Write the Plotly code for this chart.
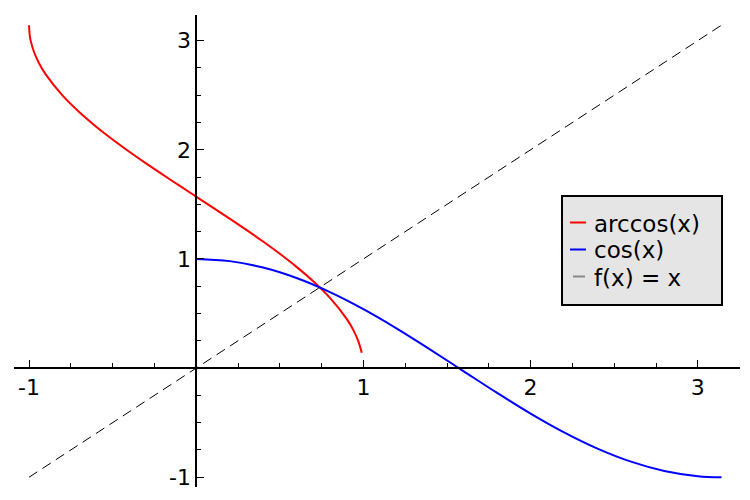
import plotly.graph_objects as go

# arccos(x) sampled on [-1, 0.99]
acos_x = [-1.0, -0.995, -0.99, -0.97, -0.94, -0.9, -0.8, -0.7, -0.6, -0.5, -0.4, -0.3, -0.2, -0.1,
          0.0, 0.1, 0.2, 0.3, 0.4, 0.5, 0.6, 0.7, 0.8, 0.9, 0.94, 0.97, 0.99]
acos_y = [3.1416, 3.0414, 3.0001, 2.8960, 2.7934, 2.6906, 2.4981, 2.3462, 2.2143, 2.0944, 1.9823,
          1.8755, 1.7722, 1.6710, 1.5708, 1.4706, 1.3694, 1.2661, 1.1593, 1.0472, 0.9273, 0.7954,
          0.6435, 0.4510, 0.3482, 0.2456, 0.1415]

# cos(x) sampled on [0, pi]
cos_x = [0.0, 0.2, 0.4, 0.6, 0.8, 1.0, 1.2, 1.4, 1.6, 1.8, 2.0, 2.2, 2.4, 2.6, 2.8, 3.0, 3.1416]
cos_y = [1.0, 0.9801, 0.9211, 0.8253, 0.6967, 0.5403, 0.3624, 0.1700, -0.0292, -0.2272, -0.4161,
         -0.5885, -0.7374, -0.8569, -0.9422, -0.9900, -1.0]

# f(x) = x on [-1, pi]
id_x = [-1.0, 3.1416]
id_y = [-1.0, 3.1416]

tick_vals = [-1, 1, 2, 3]
tick_text = ["-1", "1", "2", "3"]

legend_names = ["arccos(x)", "cos(x)", "f(x) = x"]
legend_colors = ["#ff0000", "#0000ff", "#888888"]

x_range = [-1.0897, 3.2524]
y_range = [-1.0893, 3.235]

fig = go.Figure()
fig.add_trace(go.Scatter(x=acos_x, y=acos_y, mode="lines", name=legend_names[0],
                         line=dict(color="#ff0000", width=2, shape="spline"), showlegend=False))
fig.add_trace(go.Scatter(x=cos_x, y=cos_y, mode="lines", name=legend_names[1],
                         line=dict(color="#0000ff", width=2, shape="spline"), showlegend=False))
fig.add_trace(go.Scatter(x=id_x, y=id_y, mode="lines", name=legend_names[2],
                         line=dict(color="black", width=1, dash="10px,6px"), showlegend=False))

xpos = (0 - y_range[0]) / (y_range[1] - y_range[0])
ypos = (0 - x_range[0]) / (x_range[1] - x_range[0])

axis_font = dict(family="DejaVu Sans", size=22, color="black")
minor = dict(tickmode="linear", tick0=0, dtick=0.25, ticks="inside",
             ticklen=4, tickwidth=1, tickcolor="black")

# custom legend box (Sage style); plot area spans page px x 14..740, y 15..487
def px(xp):
    return (xp - 14) / 726.0

def py(yp):
    return (487 - yp) / 472.0

box = dict(x0=px(562), x1=px(722), y0=py(305), y1=py(196))
row_px = [222.5, 249.5, 276.5]
line_px = [(570, 586), (570, 586), (573, 585)]
text_px = 592.5

shapes = [dict(type="rect", xref="paper", yref="paper", layer="above",
               fillcolor="#e5e5e5", line=dict(color="black", width=2), **box)]
annotations = []
for name, col, yy, (lx0, lx1) in zip(legend_names, legend_colors, row_px, line_px):
    shapes.append(dict(type="line", xref="paper", yref="paper", layer="above",
                       x0=px(lx0), x1=px(lx1), y0=py(yy), y1=py(yy),
                       line=dict(color=col, width=2)))
    annotations.append(dict(xref="paper", yref="paper", x=px(text_px), y=py(yy + 1), text=name,
                            showarrow=False, xanchor="left", yanchor="middle", borderpad=0,
                            font=dict(family="DejaVu Sans", size=23, color="black")))

fig.update_layout(
    width=734, height=484,
    margin=dict(l=6, r=2, t=7, b=5, autoexpand=False),
    plot_bgcolor="white", paper_bgcolor="white",
    font=dict(family="DejaVu Sans", color="black"),
    xaxis=dict(range=x_range, showgrid=False, zeroline=False, showline=True,
               linecolor="black", linewidth=1.5, anchor="free", position=xpos,
               automargin=False,
               tickmode="array", tickvals=tick_vals, ticktext=tick_text,
               ticks="inside", ticklen=7, tickwidth=1, tickcolor="black",
               tickfont=axis_font, ticklabelstandoff=0, minor=minor),
    yaxis=dict(range=y_range, showgrid=False, zeroline=False, showline=True,
               linecolor="black", linewidth=1.5, anchor="free", position=ypos,
               automargin=False,
               tickmode="array", tickvals=tick_vals, ticktext=tick_text,
               ticks="inside", ticklen=7, tickwidth=1, tickcolor="black",
               tickfont=axis_font, ticklabelstandoff=0, minor=minor),
    shapes=shapes,
    annotations=annotations,
    showlegend=False,
)

fig.write_html("out.html")
